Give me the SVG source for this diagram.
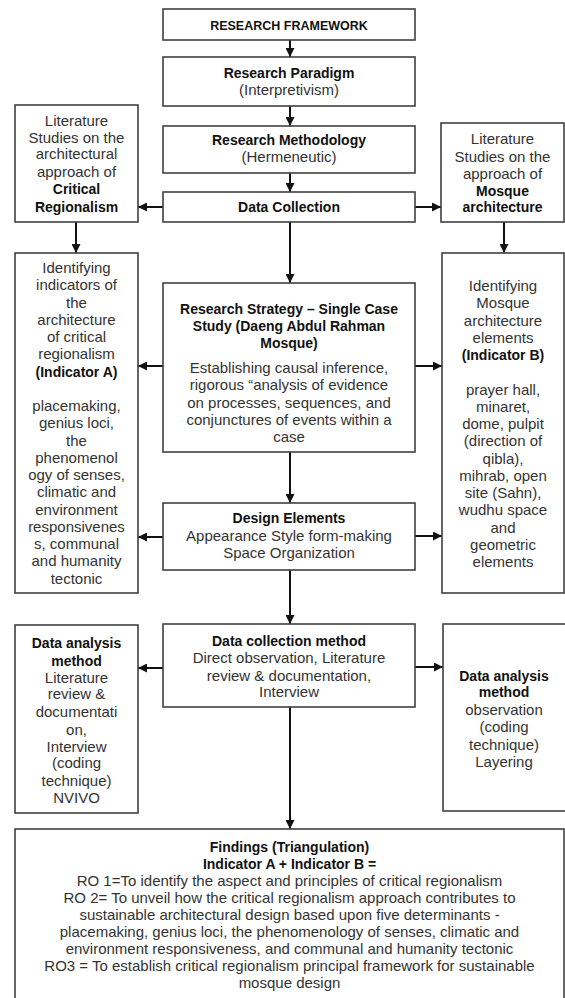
<svg xmlns="http://www.w3.org/2000/svg" width="565" height="998" viewBox="0 0 565 998">
<style>
  .bx{fill:#fff;stroke:#404040;stroke-width:1.6}
  .t{font-family:"Liberation Sans",Arial,sans-serif;font-size:15px;fill:#333;text-anchor:middle}
  .tb{font-family:"Liberation Sans",Arial,sans-serif;font-size:14px;font-weight:bold;fill:#111;text-anchor:middle}
  .c{stroke:#111;stroke-width:2;fill:none}
</style>
<defs>
  <marker id="ah" viewBox="0 0 10 10" refX="10" refY="5" markerWidth="9" markerHeight="9" markerUnits="userSpaceOnUse" orient="auto">
    <path d="M0,0 L10,5 L0,10 z" fill="#111"/>
  </marker>
</defs>
<rect width="565" height="998" fill="#fff"/>

<g id="connectors">
  <line class="c" x1="290" y1="40" x2="290" y2="57" marker-end="url(#ah)"/>
  <line class="c" x1="290" y1="106" x2="290" y2="126" marker-end="url(#ah)"/>
  <line class="c" x1="290" y1="173" x2="290" y2="192" marker-end="url(#ah)"/>
  <line class="c" x1="290" y1="222" x2="290" y2="283" marker-end="url(#ah)"/>
  <line class="c" x1="290" y1="452" x2="290" y2="503" marker-end="url(#ah)"/>
  <line class="c" x1="290" y1="570" x2="290" y2="624" marker-end="url(#ah)"/>
  <line class="c" x1="290" y1="707" x2="290" y2="829" marker-end="url(#ah)"/>
  <line class="c" x1="163" y1="207" x2="138" y2="207" marker-end="url(#ah)"/>
  <line class="c" x1="163" y1="366" x2="138" y2="366" marker-end="url(#ah)"/>
  <line class="c" x1="163" y1="537" x2="138" y2="537" marker-end="url(#ah)"/>
  <line class="c" x1="163" y1="668" x2="138" y2="668" marker-end="url(#ah)"/>
  <line class="c" x1="415" y1="207" x2="441" y2="207" marker-end="url(#ah)"/>
  <line class="c" x1="415" y1="366" x2="442" y2="366" marker-end="url(#ah)"/>
  <line class="c" x1="415" y1="536" x2="442" y2="536" marker-end="url(#ah)"/>
  <line class="c" x1="415" y1="667" x2="443" y2="667" marker-end="url(#ah)"/>
  <line class="c" x1="76" y1="222" x2="76" y2="253" marker-end="url(#ah)"/>
  <line class="c" x1="504" y1="222" x2="504" y2="253" marker-end="url(#ah)"/>
</g>

<g id="research-framework">
  <rect class="bx" x="163" y="9" width="252" height="31"/>
  <text class="tb" x="289" y="30" style="font-size:12.5px">RESEARCH FRAMEWORK</text>
</g>

<g id="research-paradigm">
  <rect class="bx" x="163" y="57" width="252" height="49"/>
  <text class="tb" x="289" y="78">Research Paradigm</text>
  <text class="t" x="289" y="95">(Interpretivism)</text>
</g>

<g id="research-methodology">
  <rect class="bx" x="163" y="126" width="252" height="47"/>
  <text class="tb" x="289" y="145">Research Methodology</text>
  <text class="t" x="289" y="162">(Hermeneutic)</text>
</g>

<g id="data-collection">
  <rect class="bx" x="163" y="192" width="252" height="30"/>
  <text class="tb" x="289" y="212">Data Collection</text>
</g>

<g id="lit-critical-regionalism">
  <rect class="bx" x="15" y="105" width="123" height="117"/>
  <text class="t" x="76.5" y="126">Literature</text>
  <text class="t" x="76.5" y="143">Studies on the</text>
  <text class="t" x="76.5" y="159">architectural</text>
  <text class="t" x="76.5" y="177">approach of</text>
  <text class="tb" x="76.5" y="194">Critical</text>
  <text class="tb" x="76.5" y="212">Regionalism</text>
</g>

<g id="lit-mosque-architecture">
  <rect class="bx" x="441" y="123" width="123" height="99"/>
  <text class="t" x="502.5" y="144">Literature</text>
  <text class="t" x="502.5" y="162">Studies on the</text>
  <text class="t" x="502.5" y="179">approach of</text>
  <text class="tb" x="502.5" y="196">Mosque</text>
  <text class="tb" x="502.5" y="212">architecture</text>
</g>

<g id="indicator-a">
  <rect class="bx" x="15" y="253" width="123" height="340"/>
  <text class="t" x="76.5" y="273">Identifying</text>
  <text class="t" x="76.5" y="290.25">indicators of</text>
  <text class="t" x="76.5" y="307.5">the</text>
  <text class="t" x="76.5" y="324.75">architecture</text>
  <text class="t" x="76.5" y="342">of critical</text>
  <text class="t" x="76.5" y="359.25">regionalism</text>
  <text class="tb" x="76.5" y="376.5">(Indicator A)</text>
  <text class="t" x="76.5" y="411">placemaking,</text>
  <text class="t" x="76.5" y="428.25">genius loci,</text>
  <text class="t" x="76.5" y="445.5">the</text>
  <text class="t" x="76.5" y="462.75">phenomenol</text>
  <text class="t" x="76.5" y="480">ogy of senses,</text>
  <text class="t" x="76.5" y="497.25">climatic and</text>
  <text class="t" x="76.5" y="514.5">environment</text>
  <text class="t" x="76.5" y="531.75">responsivenes</text>
  <text class="t" x="76.5" y="549">s, communal</text>
  <text class="t" x="76.5" y="566.25">and humanity</text>
  <text class="t" x="76.5" y="583.5">tectonic</text>
</g>

<g id="research-strategy">
  <rect class="bx" x="163" y="283" width="252" height="169"/>
  <text class="tb" x="289" y="314">Research Strategy – Single Case</text>
  <text class="tb" x="289" y="331">Study (Daeng Abdul Rahman</text>
  <text class="tb" x="289" y="348">Mosque)</text>
  <text class="t" x="289" y="373">Establishing causal inference,</text>
  <text class="t" x="289" y="390">rigorous “analysis of evidence</text>
  <text class="t" x="289" y="408">on processes, sequences, and</text>
  <text class="t" x="289" y="425">conjunctures of events within a</text>
  <text class="t" x="289" y="442">case</text>
</g>

<g id="indicator-b">
  <rect class="bx" x="442" y="253" width="122" height="340"/>
  <text class="t" x="503" y="291">Identifying</text>
  <text class="t" x="503" y="308.25">Mosque</text>
  <text class="t" x="503" y="325.5">architecture</text>
  <text class="t" x="503" y="342.75">elements</text>
  <text class="tb" x="503" y="360">(Indicator B)</text>
  <text class="t" x="503" y="394.5">prayer hall,</text>
  <text class="t" x="503" y="411.75">minaret,</text>
  <text class="t" x="503" y="429">dome, pulpit</text>
  <text class="t" x="503" y="446.25">(direction of</text>
  <text class="t" x="503" y="463.5">qibla),</text>
  <text class="t" x="503" y="480.75">mihrab, open</text>
  <text class="t" x="503" y="498">site (Sahn),</text>
  <text class="t" x="503" y="515.25">wudhu space</text>
  <text class="t" x="503" y="532.5">and</text>
  <text class="t" x="503" y="549.75">geometric</text>
  <text class="t" x="503" y="567">elements</text>
</g>

<g id="design-elements">
  <rect class="bx" x="163" y="503" width="252" height="67"/>
  <text class="tb" x="289" y="523">Design Elements</text>
  <text class="t" x="289" y="541">Appearance Style form-making</text>
  <text class="t" x="289" y="558">Space Organization</text>
</g>

<g id="data-collection-method">
  <rect class="bx" x="163" y="624" width="252" height="83"/>
  <text class="tb" x="289" y="646">Data collection method</text>
  <text class="t" x="289" y="663">Direct observation, Literature</text>
  <text class="t" x="289" y="681">review &amp; documentation,</text>
  <text class="t" x="289" y="697">Interview</text>
</g>

<g id="data-analysis-left">
  <rect class="bx" x="15" y="625" width="123" height="188"/>
  <text class="tb" x="76.5" y="648">Data analysis</text>
  <text class="tb" x="76.5" y="666">method</text>
  <text class="t" x="76.5" y="683">Literature</text>
  <text class="t" x="76.5" y="699">review &amp;</text>
  <text class="t" x="76.5" y="717">documentati</text>
  <text class="t" x="76.5" y="735">on,</text>
  <text class="t" x="76.5" y="752">Interview</text>
  <text class="t" x="76.5" y="768">(coding</text>
  <text class="t" x="76.5" y="786">technique)</text>
  <text class="t" x="76.5" y="803">NVIVO</text>
</g>

<g id="data-analysis-right">
  <rect class="bx" x="443" y="624" width="130" height="187"/>
  <text class="tb" x="504" y="681">Data analysis</text>
  <text class="tb" x="504" y="697">method</text>
  <text class="t" x="504" y="715">observation</text>
  <text class="t" x="504" y="732">(coding</text>
  <text class="t" x="504" y="750">technique)</text>
  <text class="t" x="504" y="767">Layering</text>
</g>

<g id="findings">
  <rect class="bx" x="15" y="829" width="549" height="180"/>
  <text class="tb" x="289.5" y="852">Findings (Triangulation)</text>
  <text class="tb" x="289.5" y="869">Indicator A + Indicator B =</text>
  <text class="t" x="289.5" y="886">RO 1=To identify the aspect and principles of critical regionalism</text>
  <text class="t" x="289.5" y="903">RO 2= To unveil how the critical regionalism approach contributes to</text>
  <text class="t" x="289.5" y="920">sustainable architectural design based upon five determinants -</text>
  <text class="t" x="289.5" y="937">placemaking, genius loci, the phenomenology of senses, climatic and</text>
  <text class="t" x="289.5" y="954">environment responsiveness, and communal and humanity tectonic</text>
  <text class="t" x="289.5" y="971">RO3 = To establish critical regionalism principal framework for sustainable</text>
  <text class="t" x="289.5" y="988">mosque design</text>
</g>
</svg>
